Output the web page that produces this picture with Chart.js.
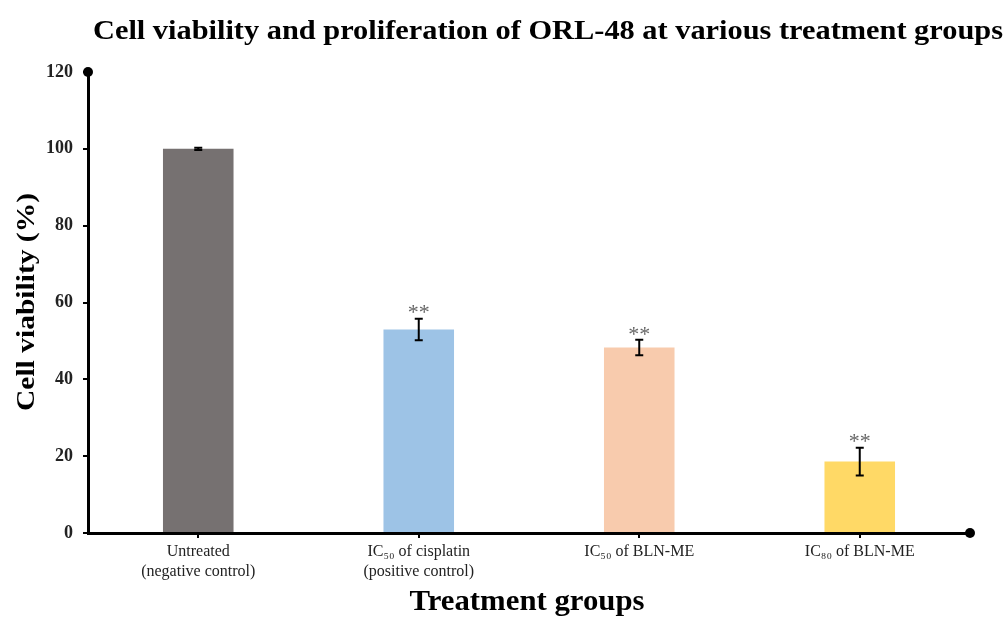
<!DOCTYPE html>
<html>
<head>
<meta charset="utf-8">
<script src="https://cdn.jsdelivr.net/npm/chart.js@4"></script>
<style>
  html, body { margin: 0; padding: 0; background: #fff; }
  #wrap { width: 1006px; height: 618px; position: relative; }
</style>
</head>
<body>
<div id="wrap"><canvas id="chart"></canvas></div>
<script>
// data
const groups = [
    ['Untreated', '(negative control)'],
    ['IC\u2085\u2080 of cisplatin', '(positive control)'],
    'IC\u2085\u2080 of BLN-ME',
    'IC\u2088\u2080 of BLN-ME'
];
const viability = [100, 53.0, 48.3, 18.6];
const errors = [0.3, 2.8, 2.0, 3.6];
const marks = ['', '**', '**', '**'];
const barColors = ['#767171', '#9dc3e6', '#f8cbad', '#ffd966'];
const yTicks = [0, 20, 40, 60, 80, 100, 120];

const serif = '"Liberation Serif", "Times New Roman", serif';

// draw text centred at (cx, cy), stretched to a given width
function stretchedText(ctx, text, cx, cy, font, width) {
    ctx.save();
    ctx.font = font;
    const w = ctx.measureText(text).width;
    ctx.translate(cx, cy);
    ctx.scale(width / w, 1);
    ctx.fillText(text, 0, 0);
    ctx.restore();
}

// error bars, asterisks, axis end dots and titles
const extras = {
    id: 'extras',
    afterDatasetsDraw(chart) {
        const ctx = chart.ctx;
        const x = chart.scales.x, y = chart.scales.y;
        ctx.save();
        viability.forEach((v, i) => {
            const cx = x.getPixelForValue(i);
            const top = y.getPixelForValue(v + errors[i]);
            const bot = y.getPixelForValue(v - errors[i]);
            ctx.strokeStyle = '#000';
            ctx.lineWidth = 2;
            ctx.beginPath();
            ctx.moveTo(cx, top); ctx.lineTo(cx, bot);
            ctx.moveTo(cx - 4, top); ctx.lineTo(cx + 4, top);
            ctx.moveTo(cx - 4, bot); ctx.lineTo(cx + 4, bot);
            ctx.stroke();
            if (marks[i]) {
                ctx.fillStyle = '#666';
                ctx.font = '22px ' + serif;
                ctx.textAlign = 'center';
                ctx.textBaseline = 'bottom';
                ctx.fillText(marks[i], cx, top + 6);
            }
        });
        // dots at axis ends
        ctx.fillStyle = '#000';
        ctx.beginPath();
        ctx.arc(chart.chartArea.left, chart.chartArea.top, 5, 0, Math.PI * 2);
        ctx.fill();
        ctx.beginPath();
        ctx.arc(chart.chartArea.right, chart.chartArea.bottom, 5, 0, Math.PI * 2);
        ctx.fill();
        // titles
        ctx.fillStyle = '#000';
        ctx.textAlign = 'center';
        ctx.textBaseline = 'middle';
        stretchedText(ctx, 'Cell viability and proliferation of ORL-48 at various treatment groups',
            548, 32, 'bold 27px ' + serif, 910);
        stretchedText(ctx, 'Treatment groups', 527, 603, 'bold 29px ' + serif, 235);
        ctx.translate(27, 302);
        ctx.rotate(-Math.PI / 2);
        stretchedText(ctx, 'Cell viability (%)', 0, 0, 'bold 26px ' + serif, 218);
        ctx.restore();
    }
};

new Chart(document.getElementById('chart'), {
    type: 'bar',
    data: {
        labels: groups,
        datasets: [{
            data: viability,
            backgroundColor: barColors,
            borderWidth: 0,
            barPercentage: 0.8,
            categoryPercentage: 0.4
        }]
    },
    options: {
        responsive: true,
        maintainAspectRatio: false,
        animation: false,
        layout: { padding: { top: 72, right: 36, left: 0, bottom: 0 } },
        plugins: {
            legend: { display: false },
            title: { display: false },
            tooltip: { enabled: false }
        },
        scales: {
            x: {
                offset: true,
                grid: {
                    offset: false,
                    drawOnChartArea: false,
                    drawTicks: true,
                    tickLength: 5,
                    color: '#000',
                    lineWidth: 2
                },
                border: { display: true, color: '#000', width: 3 },
                ticks: {
                    color: '#222',
                    font: { family: serif, size: 16, lineHeight: 1.25 },
                    padding: 4,
                    maxRotation: 0
                },
                afterFit(scale) { scale.height = 85; }
            },
            y: {
                min: 0,
                max: 120,
                afterBuildTicks(scale) {
                    scale.ticks = yTicks.map(v => ({ value: v }));
                },
                grid: {
                    drawOnChartArea: false,
                    drawTicks: true,
                    tickLength: 5,
                    color: '#000',
                    lineWidth: 2
                },
                border: { display: true, color: '#000', width: 3 },
                ticks: {
                    color: '#222',
                    font: { family: serif, size: 18, weight: 'bold' },
                    padding: 10
                },
                afterFit(scale) { scale.width = 88; }
            }
        }
    },
    plugins: [extras]
});
</script>
</body>
</html>
